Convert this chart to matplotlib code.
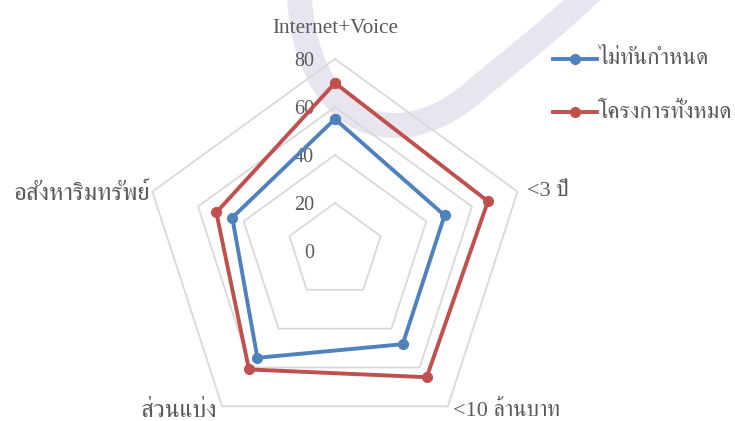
import numpy as np
import matplotlib
matplotlib.use("Agg")
import matplotlib.pyplot as plt
from matplotlib.path import Path
from matplotlib.patches import PathPatch
from matplotlib.lines import Line2D
from matplotlib.transforms import offset_copy

plt.rcParams["font.family"] = ["Liberation Serif", "FreeSerif", "DejaVu Sans"]

# ---- data ----
categories = ["Internet+Voice", "<3 ปี", "<10 ล้านบาท", "ส่วนแบ่ง", "อสังหาริมทรัพย์"]
series_names = ["ไม่ทันกำหนด", "โครงการทั้งหมด"]
late_values = [55, 48, 48, 55, 45]
all_values = [70, 67, 65, 61, 52]
ring_values = [0, 20, 40, 60, 80]

colors = ["#4F81BD", "#C0504D"]
text_color = "#595959"
grid_color = "#D9D9D9"
FS_TICK = 14.5     # ring labels
FS_LAT = 15.3      # Latin category label
FS_TH = 17.8       # Thai category labels (the Thai glyphs run small)
FS_MIX = 16.0      # mixed Latin/Thai labels
FS_LEG = 16.6      # legend entries

W, H = 735, 421
fig = plt.figure(figsize=(W / 100, H / 100), dpi=100)


def fx(x, y):
    """figure pixel (from top-left) -> figure fraction"""
    return (x / W, 1 - y / H)


# decorative swoosh in the background
verts = [fx(299, -12), fx(303, 120), fx(390, 160), fx(470, 95),
         fx(505, 65), fx(562, 22), fx(608, -25)]
codes = [Path.MOVETO, Path.CURVE4, Path.CURVE4, Path.CURVE4,
         Path.CURVE4, Path.CURVE4, Path.CURVE4]
swoosh = PathPatch(Path(verts, codes), transform=fig.transFigure, fill=False,
                   edgecolor="#E9E5F0", linewidth=18, capstyle="butt", zorder=0)
fig.patches.append(swoosh)

# polar axes: centre at (335, 251) px, outer ring radius 192 px
cx, cy, R = 335, 251, 192
ax = fig.add_axes([(cx - R) / W, (H - cy - R) / H, 2 * R / W, 2 * R / H],
                  projection="polar")
ax.set_zorder(1)
ax.set_theta_zero_location("N")
ax.set_theta_direction(-1)
ax.set_ylim(0, ring_values[-1])
ax.patch.set_visible(False)
ax.spines["polar"].set_visible(False)
ax.grid(False)
ax.set_xticks([])
ax.set_yticks([])

n = len(categories)
theta = np.arange(n) * 2 * np.pi / n
theta_closed = np.append(theta, theta[0])

# pentagon grid rings
for rv in ring_values[1:]:
    ax.plot(theta_closed, [rv] * (n + 1), color=grid_color, lw=1.3, zorder=1,
            clip_on=False)

# ring labels to the left of the top spoke
for rv in ring_values:
    tr = offset_copy(ax.transData, fig=fig, x=-21, y=-3, units="dots")
    ax.text(0, rv, str(rv), transform=tr, ha="right", va="center",
            fontsize=FS_TICK, color=text_color)

# category labels around the outside
label_layout = [(0, 30, "center", FS_LAT), (9, 0, "left", FS_MIX),
                (5, -5, "left", FS_MIX), (-5, -5, "right", FS_TH),
                (-2, -2, "right", FS_TH)]
for t, lab, (dx, dy, ha, fs) in zip(theta, categories, label_layout):
    tr = offset_copy(ax.transData, fig=fig, x=dx, y=dy, units="dots")
    ax.text(t, ring_values[-1], lab, transform=tr, ha=ha, va="center",
            fontsize=fs, color=text_color)

# series
for vals, name, c in zip([late_values, all_values], series_names, colors):
    v = np.append(vals, vals[0])
    ax.plot(theta_closed, v, color=c, lw=2.8, marker="o", markersize=7,
            label=name, zorder=3, clip_on=False)

# legend, laid out by hand on the right
for i, (name, c) in enumerate(zip(series_names, colors)):
    y = 59 + 53 * i
    (x0, yy), (x1, _) = fx(553, y), fx(597, y)
    fig.add_artist(Line2D([x0, x1], [yy, yy], transform=fig.transFigure,
                          color=c, lw=2.8, zorder=2))
    fig.add_artist(Line2D([(x0 + x1) / 2], [yy], transform=fig.transFigure,
                          color=c, marker="o", markersize=7, zorder=2))
    fig.text(598 / W, yy, name, ha="left", va="center", fontsize=FS_LEG,
             color=text_color)

fig.savefig("out.png", dpi=100)
